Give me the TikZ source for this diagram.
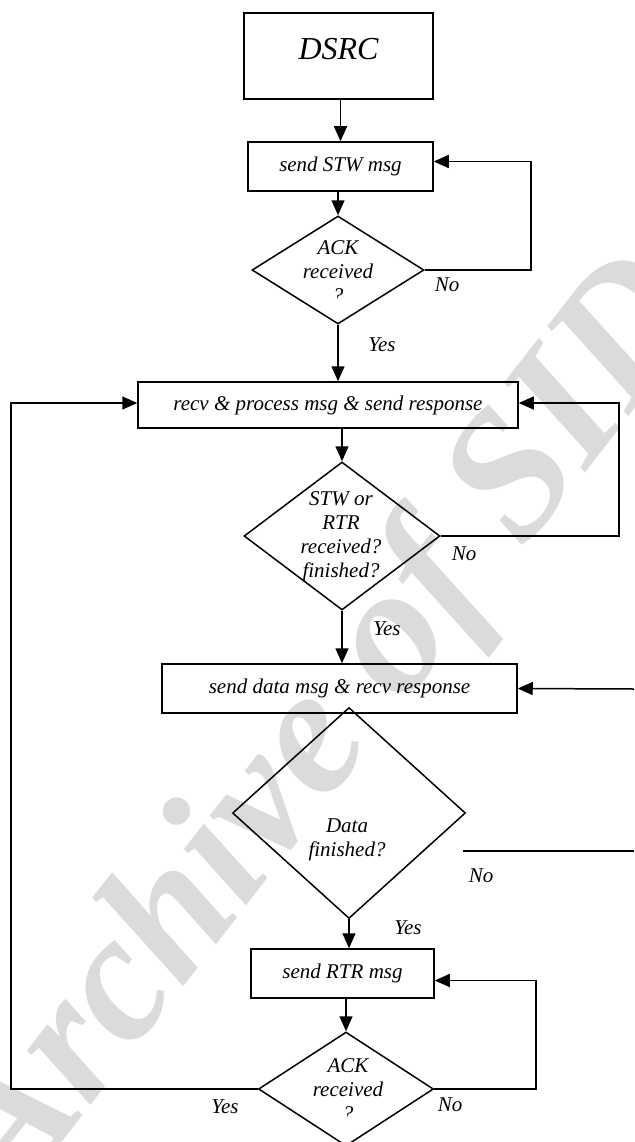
\documentclass[tikz,border=0pt]{standalone}
\usepackage{fontspec}
\setmainfont{Liberation Serif}
\usetikzlibrary{arrows.meta,shapes.geometric}
\begin{document}
\begin{tikzpicture}[x=1pt,y=-1pt,
  line width=1.5pt,
  every node/.style={font=\fontsize{21}{24}\selectfont\itshape, inner sep=0pt},
  procbox/.style={draw, rectangle},
  decision/.style={draw, diamond},
  dtext/.style={align=center},
  lbl/.style={},
  arr/.style={-{Triangle[length=15pt,width=13pt]}},
  wmark/.style={font=\fontsize{182}{182}\selectfont\bfseries\itshape, text=black!14}]
\useasboundingbox (0,0) rectangle (634,1142);

% background watermark
\begin{scope}
  \clip (0,0) rectangle (634,1142);
  \node[wmark, rotate=52, anchor=base] (wm) at (362,758) {Archive of SID};
\end{scope}

% process boxes
\node[procbox, minimum width=189pt, minimum height=86pt, text height=22pt, text depth=14pt,
      font=\fontsize{32}{36}\selectfont\itshape] (dsrc) at (338.5,56) {DSRC};
\node[procbox, minimum width=185pt, minimum height=49pt] (stw) at (340.5,166.5) {send STW msg};
\node[procbox, minimum width=380pt, minimum height=46pt] (recv) at (328,405) {recv \& process msg \& send response};
\node[procbox, minimum width=355pt, minimum height=49pt] (data) at (339.5,688.5) {send data msg \& recv response};
\node[procbox, minimum width=183pt, minimum height=49pt] (rtr) at (342.5,973.5) {send RTR msg};

% decisions
\node[decision, minimum width=172pt, minimum height=108pt] (ack1) at (338,270) {};
\node[decision, minimum width=196pt, minimum height=148pt] (d2) at (342,536) {};
\node[decision, minimum width=233pt, minimum height=211pt] (datad) at (349,813) {};
\node[decision, minimum width=175pt, minimum height=114pt] (ack2) at (346,1089) {};

% decision texts
\begin{scope}
  \clip (250,220) rectangle (430,298);
  \node[dtext] (ack1t) at (338,271.5) {ACK\\received\\?};
\end{scope}
\node[dtext] (d2t) at (341,536.5) {STW or\\RTR\\received?\\finished?};
\node[dtext] (datadt) at (347,840) {Data\\finished?};
\begin{scope}
  \clip (255,1040) rectangle (440,1117);
  \node[dtext] (ack2t) at (348,1089.5) {ACK\\received\\?};
\end{scope}

% main flow
\draw[arr] (dsrc.south -| stw.north) -- (stw.north);
\draw[arr] (stw.south -| ack1.north) -- (ack1.north);
\draw[arr] (ack1.south) -- (ack1.south |- recv.north);
\draw[arr] (recv.south -| d2.north) -- (d2.north);
\draw[arr] (d2.south) -- (d2.south |- data.north);
\draw[arr] (datad.south) -- (datad.south |- rtr.north);
\draw[arr] (rtr.south -| ack2.north) -- (ack2.north);

% loops
\coordinate (r1) at (531,0);
\coordinate (r2) at (619,0);
\coordinate (r3) at (536,0);
\coordinate (l1) at (11,0);
\draw[arr] (ack1.east) -- (ack1.east -| r1) |- ([yshift=5pt]stw.east);
\draw[arr] (d2.east) -- (d2.east -| r2) |- ([yshift=2pt]recv.east);
\draw[arr] (ack2.west) -- (ack2.west -| l1) |- ([yshift=2pt]recv.west);
\draw[arr] (ack2.east) -- (ack2.east -| r3) |- ([yshift=-7pt]rtr.east);

% loose ends at the right edge
\coordinate (din) at (634,689);
\draw[arr] (din) -- (data.east);
\coordinate (dn1) at (463,851);
\coordinate (dn2) at (634,851);
\draw (dn1) -- (dn2);

% branch labels
\node[lbl] (no1) at (447,285) {No};
\node[lbl] (yes1) at (382,345) {Yes};
\node[lbl] (no2) at (464,554) {No};
\node[lbl] (yes2) at (387,629) {Yes};
\node[lbl] (no3) at (481,876) {No};
\node[lbl] (yes3) at (408,928) {Yes};
\node[lbl] (yes4) at (225,1107) {Yes};
\node[lbl] (no4) at (450,1105) {No};
\end{tikzpicture}
\end{document}
